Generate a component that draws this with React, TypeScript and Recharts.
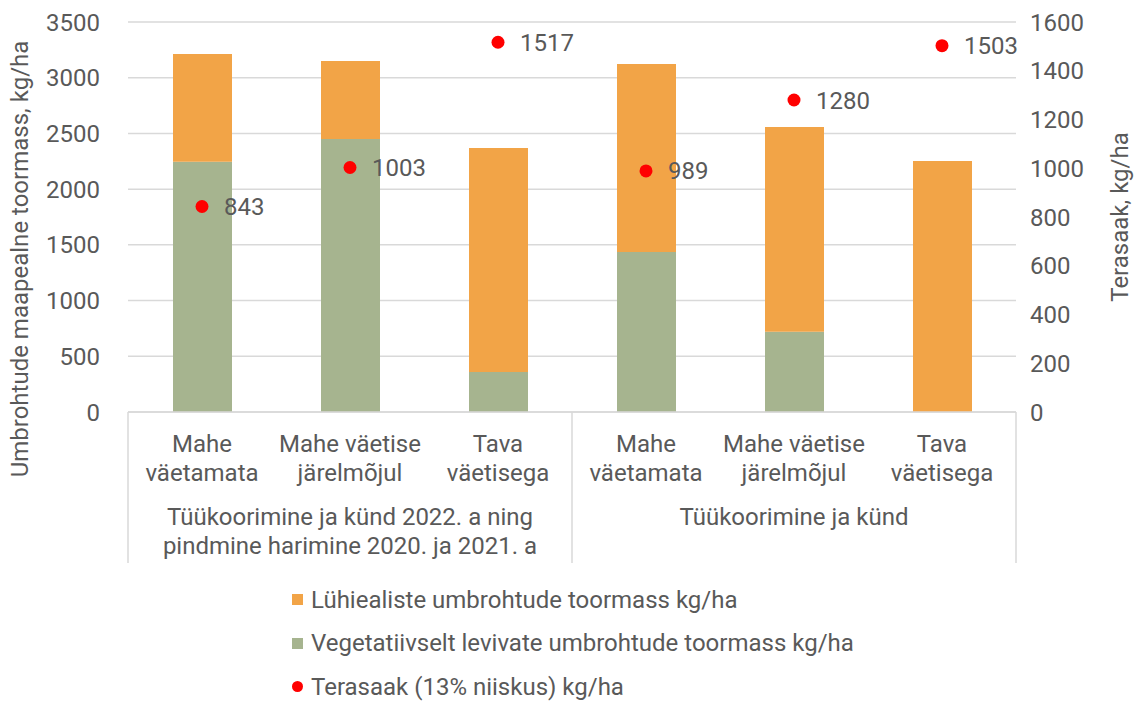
import { ComposedChart, Bar, Line, XAxis, YAxis, CartesianGrid, Legend, LabelList } from 'recharts'

// categories (ids keep the repeated names apart on the band scale)
const categoryIds = ['c1', 'c2', 'c3', 'c4', 'c5', 'c6']
const categoryLines = [
  ['Mahe', 'väetamata'],
  ['Mahe väetise', 'järelmõjul'],
  ['Tava', 'väetisega'],
  ['Mahe', 'väetamata'],
  ['Mahe väetise', 'järelmõjul'],
  ['Tava', 'väetisega'],
]
const groupOfCategory = [0, 0, 0, 1, 1, 1]
const groupLines = [
  ['Tüükoorimine ja künd 2022. a ning', 'pindmine harimine 2020. ja 2021. a'],
  ['Tüükoorimine ja künd'],
]

// series, kg/ha
const shortLived = [968, 700, 2010, 1689, 1838, 2253]
const vegetative = [2245, 2450, 360, 1435, 720, 0]
const grainYield = [843, 1003, 1517, 989, 1280, 1503]

const leftTicks = [0, 500, 1000, 1500, 2000, 2500, 3000, 3500]
const rightTicks = [0, 200, 400, 600, 800, 1000, 1200, 1400, 1600]

const SERIES_NAMES = {
  short: 'Lühiealiste umbrohtude toormass kg/ha',
  veg: 'Vegetatiivselt levivate umbrohtude toormass kg/ha',
  grain: 'Terasaak (13% niiskus) kg/ha',
}
const LEGEND_ORDER = ['short', 'veg', 'grain'] as const

const COLORS = {
  orange: '#F2A447',
  green: '#A6B48F',
  red: '#FF0000',
  text: '#595959',
  grid: '#D9D9D9',
} as const

const W = 1139
const H = 702
const FONT = 24
const PLOT_LEFT = 128
const PLOT_RIGHT = 1016
const PLOT_TOP = 22
const PLOT_BOTTOM = 412
const CAT_AXIS_H = 80
const GRP_AXIS_H = 75
const HALF_BAND = (PLOT_RIGHT - PLOT_LEFT) / categoryIds.length / 2

const data = categoryIds.map((id, i) => ({
  id,
  veg: vegetative[i],
  short: shortLived[i],
  grain: grainYield[i],
}))

function CategoryTick(props: any) {
  const { x, y, payload } = props
  const i = categoryIds.indexOf(payload.value)
  const lines = categoryLines[i] ?? []
  return (
    <g>
      {lines.map((line, k) => (
        <text key={k} x={x} y={y + 40 + k * 29} textAnchor="middle" fill={COLORS.text} fontSize={FONT}>
          {line}
        </text>
      ))}
    </g>
  )
}

function GroupTick(props: any) {
  const { x, y, payload } = props
  const i = categoryIds.indexOf(payload.value)
  const g = groupOfCategory[i]
  const members = categoryIds.map((_, k) => k).filter((k) => groupOfCategory[k] === g)
  const isMiddle = members[Math.floor(members.length / 2)] === i
  const isFirst = members[0] === i
  const isLast = i === categoryIds.length - 1
  const top = y - CAT_AXIS_H
  const bottom = y + 71
  return (
    <g>
      {isFirst && <line x1={x - HALF_BAND} x2={x - HALF_BAND} y1={top} y2={bottom} stroke={COLORS.grid} strokeWidth={1.5} />}
      {isLast && <line x1={x + HALF_BAND} x2={x + HALF_BAND} y1={top} y2={bottom} stroke={COLORS.grid} strokeWidth={1.5} />}
      {isMiddle &&
        groupLines[g].map((line, k) => (
          <text key={k} x={x} y={y + 33 + k * 29} textAnchor="middle" fill={COLORS.text} fontSize={FONT}>
            {line}
          </text>
        ))}
    </g>
  )
}

function LeftTitle(props: any) {
  const vb = props.viewBox ?? { x: 0, y: PLOT_TOP, width: PLOT_LEFT, height: PLOT_BOTTOM - PLOT_TOP }
  const cx = vb.x + 20
  const cy = vb.y + vb.height / 2 + 42
  return (
    <text x={cx} y={cy} transform={`rotate(-90, ${cx}, ${cy})`} textAnchor="middle" dominantBaseline="central" fill={COLORS.text} fontSize={FONT}>
      Umbrohtude maapealne toormass, kg/ha
    </text>
  )
}

function RightTitle(props: any) {
  const vb = props.viewBox ?? { x: PLOT_RIGHT, y: PLOT_TOP, width: W - PLOT_RIGHT, height: PLOT_BOTTOM - PLOT_TOP }
  const cx = vb.x + 104
  const cy = vb.y + vb.height / 2
  return (
    <text x={cx} y={cy} transform={`rotate(-90, ${cx}, ${cy})`} textAnchor="middle" dominantBaseline="central" fill={COLORS.text} fontSize={FONT}>
      Terasaak, kg/ha
    </text>
  )
}

function LegendContent() {
  const markerColor = { short: COLORS.orange, veg: COLORS.green, grain: COLORS.red }
  return (
    <div style={{ display: 'flex', flexDirection: 'column' }}>
      {LEGEND_ORDER.map((key) => (
        <div key={key} style={{ display: 'flex', alignItems: 'center', height: 43.5, fontSize: FONT, color: COLORS.text, whiteSpace: 'nowrap' }}>
          <span
            style={{
              display: 'inline-block',
              width: 11,
              height: 11,
              marginRight: 8,
              background: markerColor[key],
              borderRadius: key === 'grain' ? '50%' : 0,
            }}
          />
          <span>{SERIES_NAMES[key]}</span>
        </div>
      ))}
    </div>
  )
}

export default function App() {
  return (
    <div style={{ position: 'absolute', left: 0, top: 0, width: W, height: H, background: '#fff', fontFamily: 'Roboto, sans-serif' }}>
      <ComposedChart
        width={W}
        height={H}
        data={data}
        margin={{ top: PLOT_TOP, right: 0, left: 0, bottom: H - PLOT_BOTTOM - CAT_AXIS_H - GRP_AXIS_H }}
        barCategoryGap={0}
      >
        <CartesianGrid vertical={false} stroke={COLORS.grid} strokeWidth={1.5} yAxisId="left" />
        <XAxis
          dataKey="id"
          height={CAT_AXIS_H}
          tickSize={0}
          tickMargin={0}
          tickLine={false}
          axisLine={{ stroke: COLORS.grid, strokeWidth: 1.5 }}
          tick={<CategoryTick />}
          interval={0}
        />
        <XAxis
          xAxisId="grp"
          dataKey="id"
          height={GRP_AXIS_H}
          tickSize={0}
          tickMargin={0}
          tickLine={false}
          axisLine={false}
          tick={<GroupTick />}
          interval={0}
        />
        <YAxis
          yAxisId="left"
          width={PLOT_LEFT}
          domain={[0, 3500]}
          ticks={leftTicks}
          interval={0}
          tickSize={0}
          tickMargin={28}
          tickLine={false}
          axisLine={false}
          tick={{ fill: COLORS.text, fontSize: FONT }}
          label={<LeftTitle />}
        />
        <YAxis
          yAxisId="right"
          orientation="right"
          width={W - PLOT_RIGHT}
          domain={[0, 1600]}
          ticks={rightTicks}
          interval={0}
          tickSize={0}
          tickMargin={14}
          tickLine={false}
          axisLine={false}
          tick={{ fill: COLORS.text, fontSize: FONT }}
          label={<RightTitle />}
        />
        <Bar yAxisId="left" dataKey="veg" name={SERIES_NAMES.veg} stackId="a" fill={COLORS.green} barSize={59} isAnimationActive={false} />
        <Bar yAxisId="left" dataKey="short" name={SERIES_NAMES.short} stackId="a" fill={COLORS.orange} barSize={59} isAnimationActive={false} />
        <Line
          yAxisId="right"
          dataKey="grain"
          name={SERIES_NAMES.grain}
          stroke="none"
          dot={{ r: 6.5, fill: COLORS.red, stroke: 'none' }}
          activeDot={false}
          isAnimationActive={false}
        >
          <LabelList dataKey="grain" position="right" offset={22} fill={COLORS.text} fontSize={FONT} />
        </Line>
        <Legend
          layout="vertical"
          align="center"
          verticalAlign="middle"
          content={<LegendContent />}
          wrapperStyle={{ top: 578, left: 292, width: 600 }}
        />
      </ComposedChart>
    </div>
  )
}
